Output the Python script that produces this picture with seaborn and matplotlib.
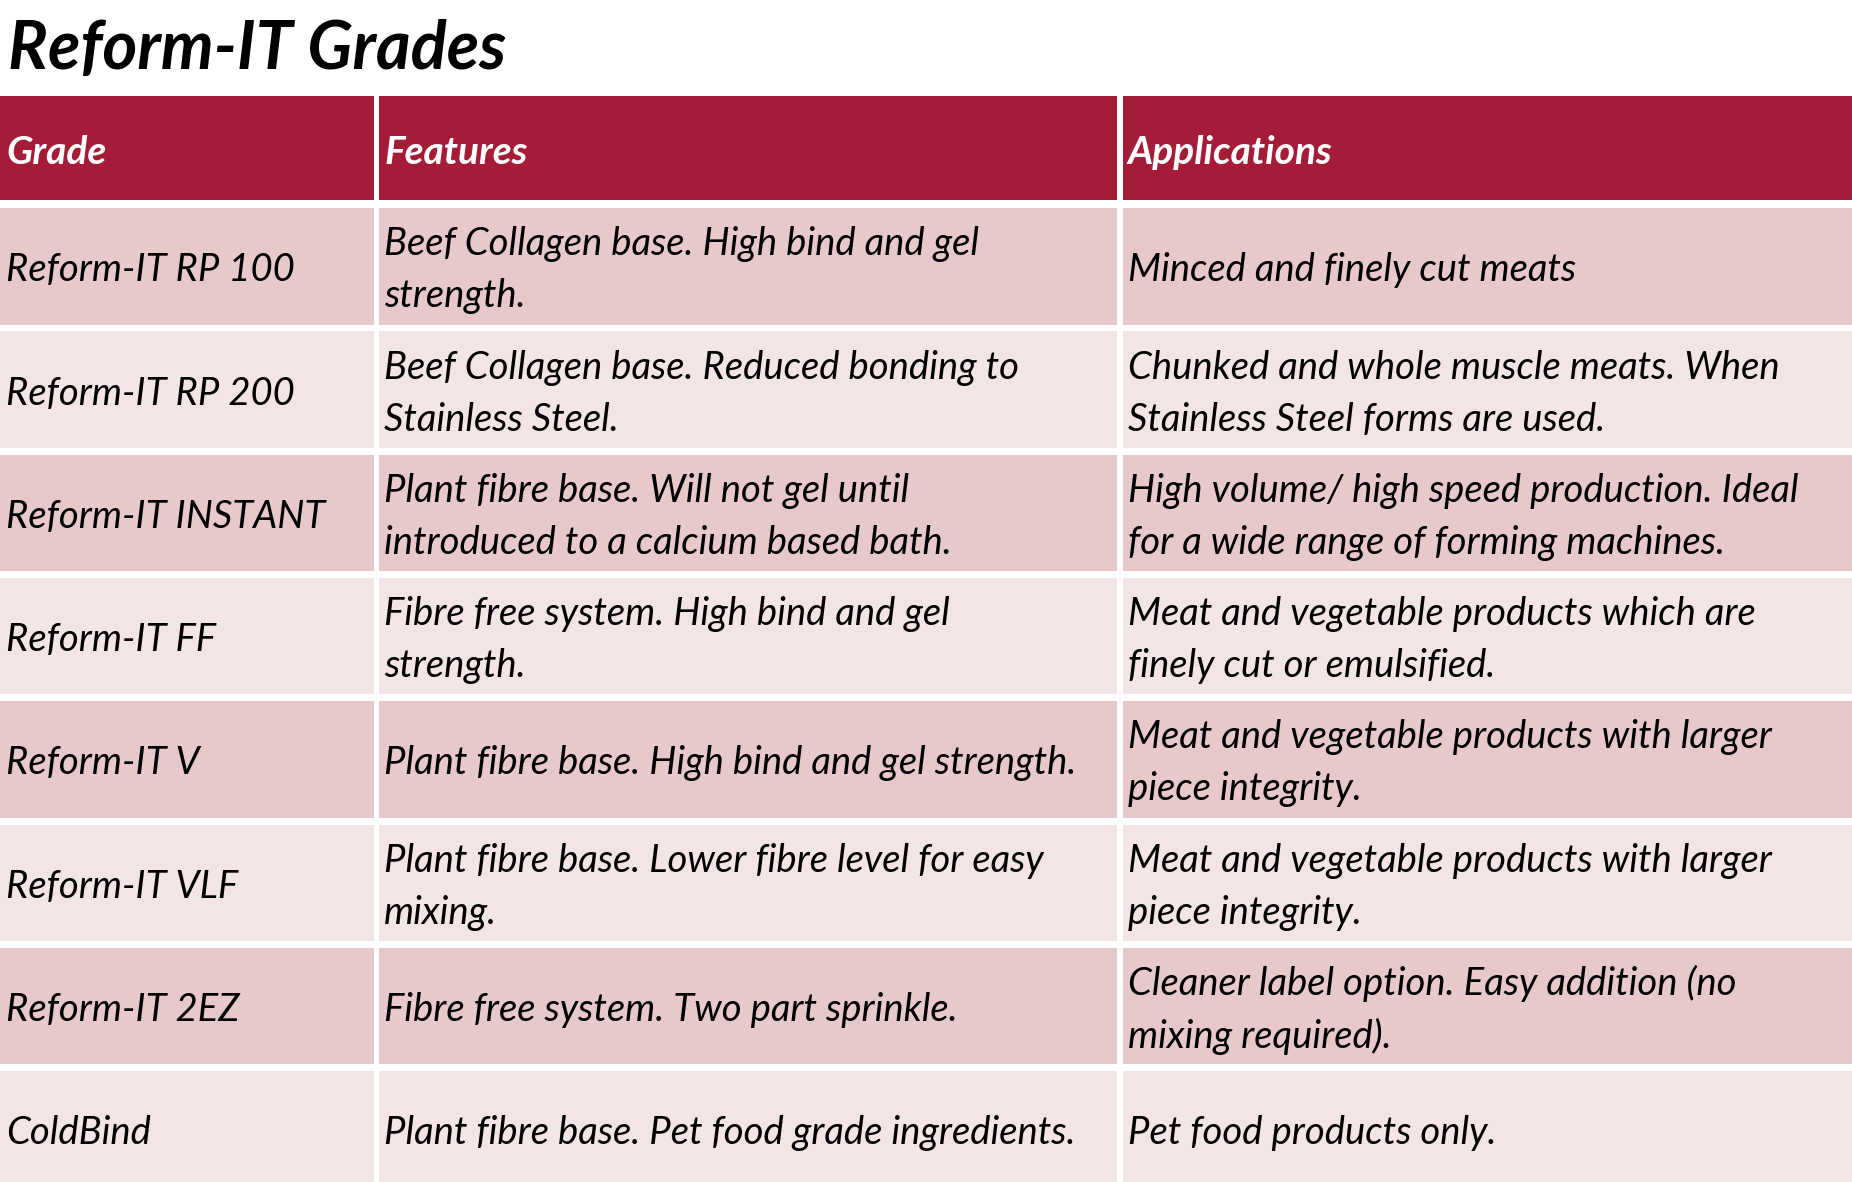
import matplotlib.pyplot as plt
import seaborn as sns

# table content
title = "Reform-IT Grades"
headers = ["Grade", "Features", "Applications"]
grades = [
    "Reform-IT RP 100",
    "Reform-IT RP 200",
    "Reform-IT INSTANT",
    "Reform-IT FF",
    "Reform-IT V",
    "Reform-IT VLF",
    "Reform-IT 2EZ",
    "ColdBind",
]
features = [
    "Beef Collagen base. High bind and gel\nstrength.",
    "Beef Collagen base. Reduced bonding to\nStainless Steel.",
    "Plant fibre base. Will not gel until\nintroduced to a calcium based bath.",
    "Fibre free system. High bind and gel\nstrength.",
    "Plant fibre base. High bind and gel strength.",
    "Plant fibre base. Lower fibre level for easy\nmixing.",
    "Fibre free system. Two part sprinkle.",
    "Plant fibre base. Pet food grade ingredients.",
]
applications = [
    "Minced and finely cut meats",
    "Chunked and whole muscle meats. When\nStainless Steel forms are used.",
    "High volume/ high speed production. Ideal\nfor a wide range of forming machines.",
    "Meat and vegetable products which are\nfinely cut or emulsified.",
    "Meat and vegetable products with larger\npiece integrity.",
    "Meat and vegetable products with larger\npiece integrity.",
    "Cleaner label option. Easy addition (no\nmixing required).",
    "Pet food products only.",
]

header_color = "#A51C38"
row_colors = ["#E7C9CB", "#F3E4E5"]

sns.set_theme(style="white")
plt.rcParams["font.family"] = ["Lato", "DejaVu Sans"]

W, H = 1852, 1182
fig = plt.figure(figsize=(W / 100, H / 100), dpi=100)
ax = fig.add_axes([0, 0, 1, 1])
ax.set_xlim(0, W)
ax.set_ylim(H, 0)
ax.axis("off")

# layout in pixels
col_left = [0, 379, 1123]
col_right = [374, 1117, 1860]
text_x = [6, 384, 1128]
head_top, head_bot = 96, 200
row_top0, row_pitch, row_h = 208, 123.3, 116.5
fs = 27.5
dy = 4  # nudge text down a little to sit like the original

ax.text(8, 50, title, fontsize=48, fontweight="bold", style="italic",
        color="black", va="center", ha="left")

# header row
for j, h in enumerate(headers):
    ax.barh((head_top + head_bot) / 2, col_right[j] - col_left[j],
            left=col_left[j], height=head_bot - head_top,
            color=header_color, linewidth=0)
    ax.text(text_x[j], (head_top + head_bot) / 2 + dy, h, fontsize=28,
            fontweight="bold", style="italic", color="white",
            va="center", ha="left")

# body rows
for i in range(len(grades)):
    yc = row_top0 + i * row_pitch + row_h / 2
    cells = [grades[i], features[i], applications[i]]
    for j, txt in enumerate(cells):
        ax.barh(yc, col_right[j] - col_left[j], left=col_left[j],
                height=row_h, color=row_colors[i % 2], linewidth=0)
        ax.text(text_x[j], yc + dy, txt, fontsize=fs, style="italic",
                color="black", va="center", ha="left", linespacing=1.55)

fig.savefig("out.png", dpi=100)
